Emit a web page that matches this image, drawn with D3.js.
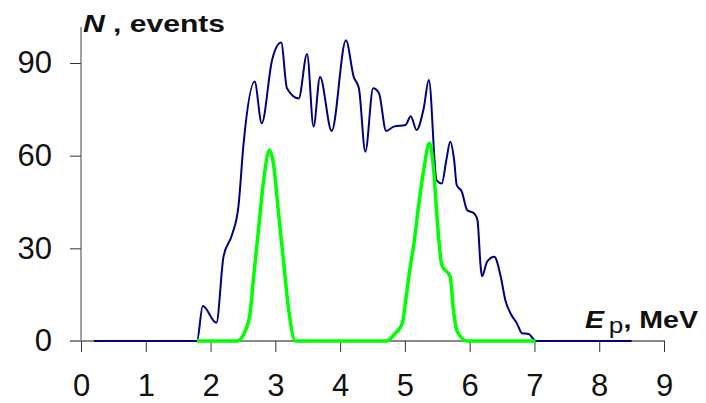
<!DOCTYPE html>
<html>
<head>
<meta charset="utf-8">
<script src="https://cdn.jsdelivr.net/npm/d3@7"></script>
<style>
  body { margin: 0; background: #fff; }
  text { font-family: Arial, "Liberation Sans", sans-serif; }
</style>
</head>
<body>
<div id="chart-container"></div>
<script>
const width = 706;
const height = 403;

// measured spectrum (blue) and the two reference peaks (green)
const blueE = [0.2, 1.79, 1.88, 2.09, 2.2, 2.33, 2.43, 2.51, 2.68, 2.79, 2.95, 3.09, 3.18, 3.36, 3.49, 3.59,
  3.69, 3.87, 4.09, 4.21, 4.29, 4.39, 4.51, 4.6, 4.71, 4.83, 5.01, 5.09, 5.18, 5.29, 5.37, 5.49, 5.57,
  5.64, 5.7, 5.76, 5.8, 5.88, 5.96, 6.07, 6.12, 6.17, 6.19, 6.27, 6.38, 6.48, 6.55, 6.63, 6.73, 6.81,
  6.91, 7.02, 8.5];
const blueN = [0, 0, 11.3, 5.9, 27.3, 34.3, 43.5, 64, 84, 70.5, 91, 96.6, 81.8, 78.5, 92.9, 69.4,
  85.5, 68, 97.4, 85.5, 81.8, 61.3, 81.8, 80.2, 68, 69.4, 69.9, 72.8, 68.3, 75.3, 84.5, 52, 51,
  58.6, 64.5, 58.6, 50.5, 48.3, 42.4, 41.3, 39.2, 24, 21, 25.7, 27.3, 20.8, 13.3, 9, 5.7, 2.5,
  2.3, 0, 0];

const greenE = [1.79, 2.41, 2.53, 2.61, 2.66, 2.74, 2.82, 2.91, 2.97, 3.05, 3.13, 3.2, 3.31, 4.72,
  4.85, 4.96, 5.02, 5.09, 5.14, 5.21, 5.29, 5.38, 5.44, 5.5, 5.57, 5.7, 5.75, 5.81, 5.96, 7.02];
const greenN = [0, 0, 3, 9, 19.7, 36, 52, 61.8, 57.5, 41.3, 25.1, 11.1, 0, 0,
  2.5, 5.7, 14.3, 25.1, 31.6, 43.5, 55.3, 64, 56.4, 39, 24.6, 20.8, 10, 3, 0, 0];

const xTicks = [0, 1, 2, 3, 4, 5, 6, 7, 8, 9];
const yTicks = [0, 30, 60, 90];

const svg = d3.select("#chart-container").append("svg")
  .attr("width", width)
  .attr("height", height);

const x = d3.scaleLinear().domain([0, 9]).range([81, 664]);
const y = d3.scaleLinear().domain([0, 90]).range([341, 63]);

// y axis
const yAxis = svg.append("g")
  .attr("transform", "translate(81,0)")
  .call(d3.axisLeft(y).tickValues(yTicks).tickSize(11).tickPadding(18).tickFormat(d3.format("d")));
yAxis.select(".domain").remove();
yAxis.append("line")
  .attr("x1", 0).attr("x2", 0)
  .attr("y1", 27).attr("y2", y(0))
  .attr("stroke", "#444").attr("stroke-width", 1);
yAxis.selectAll(".tick line").attr("stroke", "#333");
yAxis.selectAll(".tick text")
  .attr("fill", "#111")
  .style("font-size", "31px");

// x axis
const xAxis = svg.append("g")
  .attr("transform", `translate(0,${y(0)})`)
  .call(d3.axisBottom(x).tickValues(xTicks).tickSize(11).tickPadding(22));
xAxis.select(".domain").remove();
xAxis.insert("line", ":first-child")
  .attr("x1", 70).attr("x2", x(9) + 1)
  .attr("y1", 0).attr("y2", 0)
  .attr("stroke", "#888").attr("stroke-width", 2);
xAxis.selectAll(".tick line").attr("stroke", "#333");
xAxis.selectAll(".tick text")
  .attr("fill", "#111")
  .style("font-size", "31px");

const line = d3.line()
  .x(d => x(d[0]))
  .y(d => y(d[1]))
  .curve(d3.curveMonotoneX);

svg.append("path")
  .datum(d3.zip(blueE, blueN))
  .attr("fill", "none")
  .attr("stroke", "#000080")
  .attr("stroke-width", 2)
  .attr("d", line);

svg.append("path")
  .datum(d3.zip(greenE, greenN))
  .attr("fill", "none")
  .attr("stroke", "#00ff00")
  .attr("stroke-width", 3.5)
  .attr("stroke-linejoin", "round")
  .attr("d", line);

// axis titles
const yTitle = svg.append("text")
  .attr("x", 83).attr("y", 32)
  .attr("textLength", 142).attr("lengthAdjust", "spacingAndGlyphs")
  .style("font-size", "24px").style("font-weight", "bold").attr("fill", "#111");
yTitle.append("tspan").style("font-style", "italic").text("N");
yTitle.append("tspan").text(" , events");

const xTitle = svg.append("text")
  .attr("x", 585).attr("y", 328)
  .attr("textLength", 113).attr("lengthAdjust", "spacingAndGlyphs")
  .style("font-size", "24px").style("font-weight", "bold").attr("fill", "#111");
xTitle.append("tspan").style("font-style", "italic").text("E");
xTitle.append("tspan").attr("dx", 4).attr("dy", 5).style("font-weight", "normal").style("font-size", "22px").text("p");
xTitle.append("tspan").attr("dy", -5).text(", MeV");
</script>
</body>
</html>
